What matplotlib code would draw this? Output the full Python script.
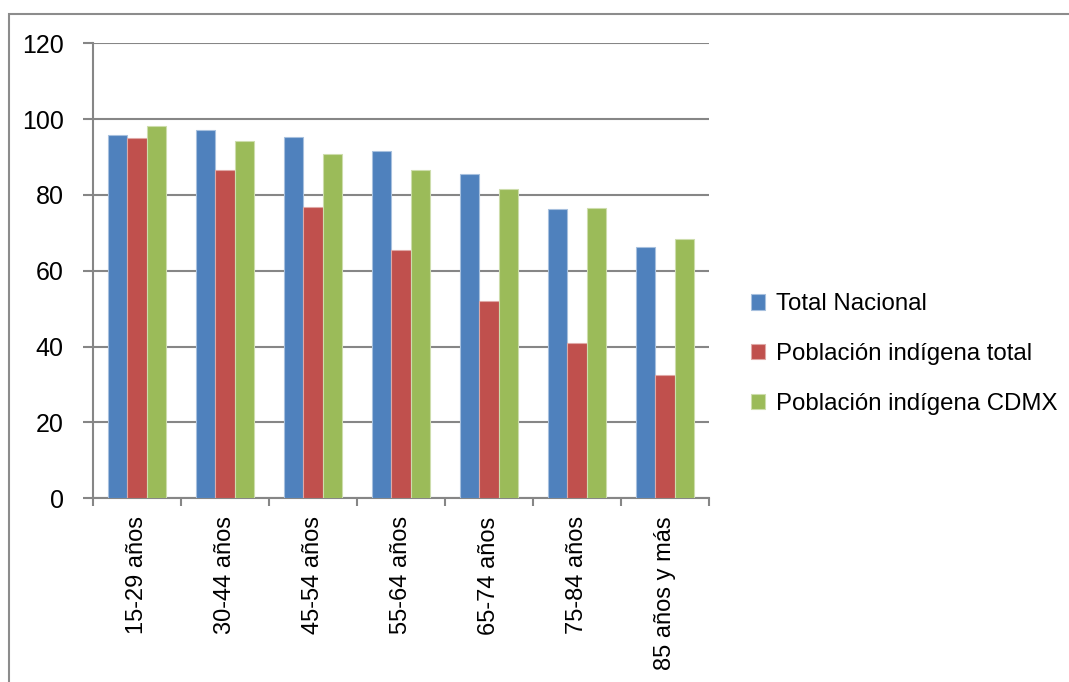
import matplotlib
matplotlib.use("Agg")
import matplotlib.pyplot as plt
from matplotlib.patches import Rectangle
from matplotlib.ticker import FixedLocator, NullFormatter
import numpy as np

# Porcentaje de alfabetización por grupo de edad
grupos = ["15-29 años", "30-44 años", "45-54 años", "55-64 años",
          "65-74 años", "75-84 años", "85 años y más"]
total_nacional = [95.8, 97.1, 95.3, 91.7, 85.4, 76.4, 66.4]
indigena_total = [95.1, 86.5, 76.8, 65.6, 52.0, 40.9, 32.4]
indigena_cdmx = [98.2, 94.3, 90.9, 86.7, 81.6, 76.5, 68.5]

series = ["Total Nacional", "Población indígena total", "Población indígena CDMX"]
colores = ["#4F81BD", "#C0504D", "#9BBB59"]
bordes = ["#A7C0DE", "#DFA8A6", "#CDDDAC"]
yticks = [0, 20, 40, 60, 80, 100, 120]

GRIS = "#868686"
SANS = ["Liberation Sans", "DejaVu Sans"]

W, H = 1069, 682
fig = plt.figure(figsize=(W / 100, H / 100), dpi=100)
fig.patch.set_facecolor("white")

# Marco exterior del gráfico
fig.patches.append(Rectangle((9 / W, 1 - 690 / H), (1080 - 9) / W, (690 - 14) / H,
                             transform=fig.transFigure, fill=False,
                             edgecolor="#8C8C8C", linewidth=1.5, clip_on=False))

ax = fig.add_axes([93 / W, 1 - 498.3 / H, (709 - 93) / W, (498.3 - 43.3) / H])

x = np.arange(len(grupos))
ancho = 0.22
valores = [total_nacional, indigena_total, indigena_cdmx]
for i, (vals, nombre, c, b) in enumerate(zip(valores, series, colores, bordes)):
    ax.bar(x + (i - 1) * ancho, vals, width=ancho, color=c, edgecolor=b,
           linewidth=0.8, label=nombre, zorder=3)

ax.set_xlim(-0.5, len(grupos) - 0.5)
ax.set_ylim(0, 120)

ax.set_yticks(yticks)
ax.set_yticklabels([str(v) for v in yticks], fontfamily=SANS, fontsize=18)
ax.yaxis.grid(True, color=GRIS, linewidth=1.5, zorder=0)
ax.set_axisbelow(True)

# Marcas del eje x en los límites de cada categoría, etiquetas en el centro
ax.xaxis.set_major_locator(FixedLocator(np.arange(-0.5, len(grupos), 1.0)))
ax.xaxis.set_major_formatter(NullFormatter())
ax.xaxis.set_minor_locator(FixedLocator(x))
ax.set_xticklabels(grupos, minor=True, rotation=90, fontfamily=SANS, fontsize=17)
ax.tick_params(axis="x", which="minor", length=0, pad=13)
ax.tick_params(axis="x", which="major", length=6, width=1.5, color=GRIS, direction="out")
ax.tick_params(axis="y", length=7, width=1.5, color=GRIS, direction="out", pad=14)

for lado in ["top", "right"]:
    ax.spines[lado].set_visible(False)
for lado in ["left", "bottom"]:
    ax.spines[lado].set_color(GRIS)
    ax.spines[lado].set_linewidth(1.5)

fig.legend(loc="center left", bbox_to_anchor=(751 / W, 1 - 354 / H),
           frameon=False, prop={"family": SANS, "size": 17.3},
           handlelength=0.6, handleheight=0.6, handletextpad=0.45,
           labelspacing=1.15, borderpad=0, borderaxespad=0)

fig.savefig("out.png", dpi=100, facecolor="white")
